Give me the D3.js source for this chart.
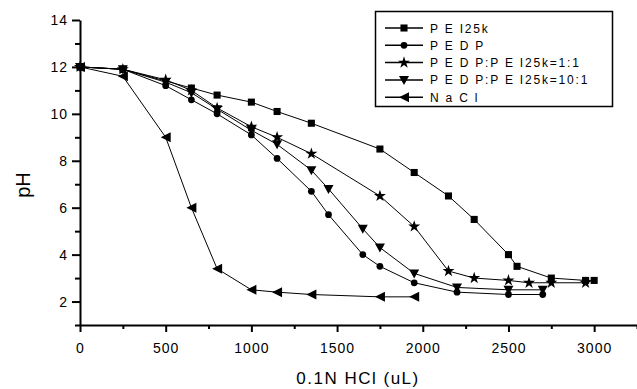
<!DOCTYPE html>
<html>
<head>
<meta charset="utf-8">
<script src="https://cdn.jsdelivr.net/npm/d3@7"></script>
<style>
  html, body { margin: 0; padding: 0; background: #fff; }
  svg { display: block; font-family: Arial, "Liberation Sans", sans-serif; }
</style>
</head>
<body>
<svg id="chart" width="637" height="389"></svg>
<script>
// Titration curves: pH vs volume of 0.1N HCl added
const seriesNames = ["PEI25k", "PEDP", "PEDP:PEI25k=1:1", "PEDP:PEI25k=10:1", "NaCl"];
const legendLabels = ["P E I25k", "P E D P", "P E D P:P E I25k=1:1", "P E D P:P E I25k=10:1", "N a C l"];

const pei25kX = [0, 250, 650, 800, 1000, 1150, 1350, 1750, 1950, 2150, 2300, 2500, 2550, 2750, 2950, 3000];
const pei25kY = [12, 11.9, 11.1, 10.8, 10.5, 10.1, 9.6, 8.5, 7.5, 6.5, 5.5, 4.0, 3.5, 3.0, 2.9, 2.9];

const pedpX = [0, 250, 500, 650, 800, 1000, 1150, 1350, 1450, 1650, 1750, 1950, 2200, 2500, 2700];
const pedpY = [12, 11.9, 11.2, 10.6, 10.0, 9.1, 8.1, 6.7, 5.7, 4.0, 3.5, 2.8, 2.4, 2.3, 2.3];

const mix11X = [0, 250, 500, 650, 800, 1000, 1150, 1350, 1750, 1950, 2150, 2300, 2500, 2620, 2750, 2950];
const mix11Y = [12, 11.9, 11.45, 11.0, 10.25, 9.45, 9.0, 8.3, 6.5, 5.2, 3.3, 3.0, 2.9, 2.8, 2.8, 2.8];

const mix101X = [0, 250, 500, 650, 800, 1000, 1150, 1350, 1450, 1650, 1750, 1950, 2200, 2500, 2700];
const mix101Y = [12, 11.9, 11.35, 10.9, 10.2, 9.3, 8.7, 7.6, 6.8, 5.1, 4.3, 3.2, 2.6, 2.5, 2.5];

const naclX = [0, 250, 500, 650, 800, 1000, 1150, 1350, 1750, 1950];
const naclY = [12, 11.6, 9.0, 6.0, 3.4, 2.5, 2.4, 2.3, 2.2, 2.2];

const xMajorTicks = [0, 500, 1000, 1500, 2000, 2500, 3000];
const xMinorTicks = [250, 750, 1250, 1750, 2250, 2750, 3250];
const yMajorTicks = [2, 4, 6, 8, 10, 12, 14];
const yMinorTicks = [1, 3, 5, 7, 9, 11, 13];

const seriesX = [pei25kX, pedpX, mix11X, mix101X, naclX];
const seriesY = [pei25kY, pedpY, mix11Y, mix101Y, naclY];
const markerTypes = ["square", "circle", "star", "down", "left"];

const svg = d3.select("#chart");
const plotLeft = 80, plotRight = 637, plotTop = 20, plotBottom = 325;

const x = d3.scaleLinear().domain([0, 3250]).range([plotLeft, plotRight]);
const y = d3.scaleLinear().domain([1, 14]).range([plotBottom, plotTop]);
const fmt = d3.format("d");

// Axes
const xAxisG = svg.append("g").attr("transform", `translate(0,${plotBottom})`)
  .call(d3.axisBottom(x).tickValues(xMajorTicks).tickFormat(fmt).tickSize(7).tickSizeOuter(0).tickPadding(11));
const xMinorG = svg.append("g").attr("transform", `translate(0,${plotBottom})`)
  .call(d3.axisBottom(x).tickValues(xMinorTicks).tickSize(4).tickSizeOuter(0).tickFormat(""));
const yAxisG = svg.append("g").attr("transform", `translate(${plotLeft},0)`)
  .call(d3.axisLeft(y).tickValues(yMajorTicks).tickFormat(fmt).tickSize(8).tickSizeOuter(0).tickPadding(4));
const yMinorG = svg.append("g").attr("transform", `translate(${plotLeft},0)`)
  .call(d3.axisLeft(y).tickValues(yMinorTicks).tickSize(5).tickSizeOuter(0).tickFormat(""));

[xAxisG, xMinorG, yAxisG, yMinorG].forEach(g => {
  g.selectAll(".domain").attr("stroke", "#000").attr("stroke-width", 2);
  g.selectAll(".tick line").attr("stroke", "#000").attr("stroke-width", 2);
  g.selectAll("text").attr("fill", "#000").style("font-size", "14px")
    .style("font-family", "Arial, 'Liberation Sans', sans-serif").style("letter-spacing", "1px");
});
xMinorG.select(".domain").remove();
yMinorG.select(".domain").remove();

// Axis titles
svg.append("text").attr("x", 358).attr("y", 384).attr("text-anchor", "middle")
  .style("font-size", "17px").style("letter-spacing", "1.5px").text("0.1N HCl (uL)");
svg.append("text").attr("transform", "translate(30,185) rotate(-90)").attr("text-anchor", "middle")
  .style("font-size", "20px").text("pH");

// Marker shapes
function markerPath(type) {
  switch (type) {
    case "square": return d3.symbol(d3.symbolSquare, 50)();
    case "circle": return d3.symbol(d3.symbolCircle, 36)();
    case "star": return d3.symbol(d3.symbolStar, 45)();
    case "down": return "M-5,-4L5,-4L0,5Z";
    case "left": return "M-5,0L5,-5L5,5Z";
  }
}

const line = d3.line().x(d => x(d[0])).y(d => y(d[1]));

seriesNames.forEach((name, i) => {
  const pts = seriesX[i].map((v, j) => [v, seriesY[i][j]]);
  const g = svg.append("g").attr("class", "series");
  g.append("path").datum(pts).attr("d", line)
    .attr("fill", "none").attr("stroke", "#000").attr("stroke-width", 1);
  g.selectAll("path.mk").data(pts).enter().append("path").attr("class", "mk")
    .attr("d", markerPath(markerTypes[i]))
    .attr("transform", d => `translate(${x(d[0])},${y(d[1])})`)
    .attr("fill", "#000");
});

// Legend
const lg = svg.append("g");
lg.append("rect").attr("x", 375.5).attr("y", 11.5).attr("width", 237).attr("height", 95)
  .attr("fill", "#fff").attr("stroke", "#000").attr("stroke-width", 1.5);
legendLabels.forEach((lab, i) => {
  const ly = 28 + i * 17.3;
  lg.append("line").attr("x1", 385).attr("x2", 423).attr("y1", ly).attr("y2", ly)
    .attr("stroke", "#000").attr("stroke-width", 1.5);
  lg.append("path").attr("d", markerPath(markerTypes[i]))
    .attr("transform", `translate(404,${ly})`).attr("fill", "#000");
  lg.append("text").attr("x", 430).attr("y", ly + 4.5)
    .style("font-size", "12px").style("letter-spacing", "1.8px").text(lab);
});
</script>
</body>
</html>
